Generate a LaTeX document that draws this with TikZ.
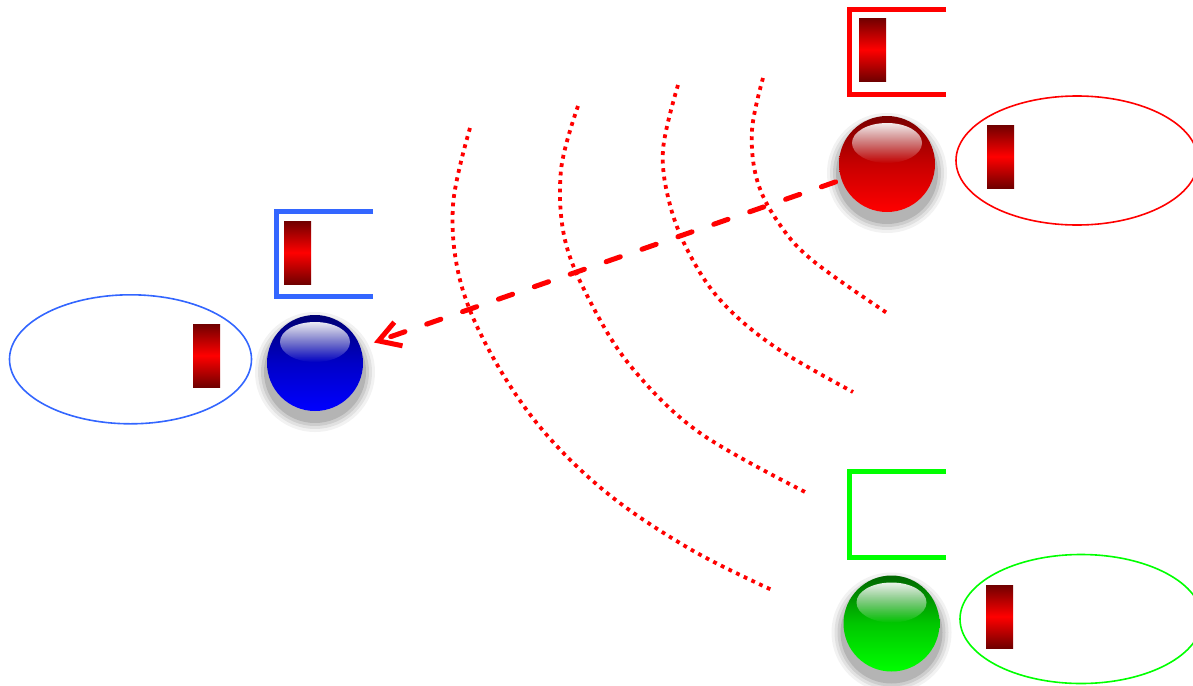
\documentclass[tikz,border=0pt]{standalone}
\usetikzlibrary{arrows.meta,fadings,shapes.geometric}
\definecolor{lblue}{RGB}{51,102,255}
\definecolor{lgreen}{RGB}{0,255,0}
\definecolor{barred}{RGB}{112,0,0}
\tikzset{
  bar/.style={rectangle,inner sep=0pt,minimum width=13.5pt,minimum height=31.5pt,
     top color=barred,bottom color=barred,middle color=red},
  bracketline/.style={line width=2.5pt,line join=miter},
  ringshape/.style={ellipse,draw,line width=0.8pt,minimum width=121pt,minimum height=64.5pt,inner sep=0pt},
  wave/.style={red,line width=1.9pt,dash pattern=on 1.9pt off 2.35pt},
}
\newcommand\glossball[5]{%
  \foreach \rr/\oo in {60/0.05,57/0.07,54/0.09,51/0.12}{\fill[black,opacity=\oo] (#2,#3+9) circle[radius=\rr];}
  \node[circle,inner sep=0pt,minimum size=48pt,top color=#4,bottom color=#5,middle color=#5!78!black] (#1) at (#2,#3) {};
  \fill[white,path fading=south,opacity=0.92] (#2,#3-21) ellipse[x radius=35,y radius=20];
}
\begin{document}
\begin{tikzpicture}[x=0.5pt,y=-0.5pt]
\useasboundingbox (0,0) rectangle (1193,685);
\clip (0,0) rectangle (1193,685);
% waves
\draw[wave] plot[smooth,tension=0.6] coordinates {(763,78) (752,130) (757,180) (778,222) (812,260) (887,313)};
\draw[wave] plot[smooth,tension=0.6] coordinates {(678,85) (663,150) (670,205) (690,255) (722,302) (775,347) (853,392)};
\draw[wave] plot[smooth,tension=0.6] coordinates {(578,106) (561,170) (565,240) (592,305) (633,369) (700,433) (807,493)};
\draw[wave] plot[smooth,tension=0.6] coordinates {(470,128) (453,205) (460,280) (490,352) (540,427) (607,493) (690,549) (772,590)};
% balls
\glossball{rs}{887}{164}{red!48!black}{red}
\glossball{bs}{315}{363}{blue!45!black}{blue}
\glossball{gs}{891.5}{623.5}{green!40!black}{lgreen}
% brackets
\draw[bracketline,red] (946,9.5) -- (849.5,9.5) -- (849.5,94.5) -- (946,94.5);
\draw[bracketline,lblue] (373,211.5) -- (276.5,211.5) -- (276.5,296.5) -- (373,296.5);
\draw[bracketline,lgreen] (946,471.5) -- (849.5,471.5) -- (849.5,557) -- (946,557);
% bars in brackets
\node[bar] (rb) at (872.5,49.5) {};
\node[bar] (bb) at (297.5,252.5) {};
% ellipses
\node[ringshape,red] (re) at (1077,160.5) {};
\node[ringshape,lblue] (be) at (130.5,359.3) {};
\node[ringshape,lgreen] (ge) at (1081,619) {};
\node[bar] (reb) at (1000.5,156.5) {};
\node[bar] (beb) at (206.5,355.5) {};
\node[bar] (geb) at (999.5,616.5) {};
% arrow
\draw[red,line width=2.5pt,dash pattern=on 7.5pt off 11.5pt,line cap=round,
  -{Straight Barb[length=10.5pt,width=12.5pt]},shorten <=3pt,shorten >=7pt] (rs) -- (bs);
\end{tikzpicture}
\end{document}
